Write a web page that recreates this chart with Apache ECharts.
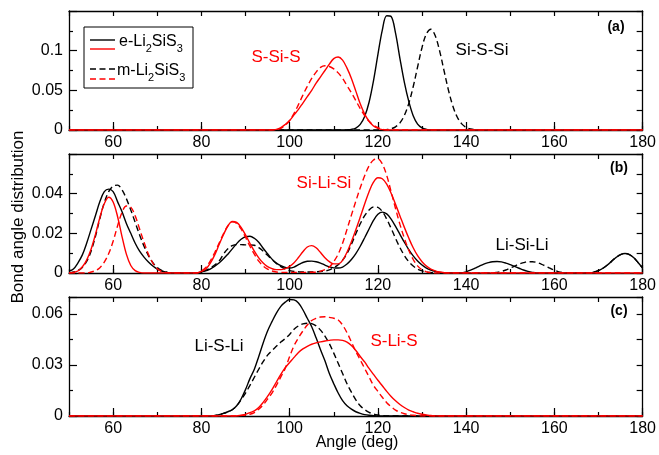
<!DOCTYPE html>
<html>
<head>
<meta charset="utf-8">
<script src="https://cdn.jsdelivr.net/npm/echarts@6.0.0/dist/echarts.min.js"></script>
<style>
  html, body { margin: 0; padding: 0; background: #fff; }
  #chart { width: 659px; height: 455px; }
</style>
</head>
<body>
<div id="chart"></div>
<script>
// tick values
const xMajor = [60, 80, 100, 120, 140, 160, 180];

// panel (a): Si-S-Si (black) and S-Si-S (red)
const aBlackE = [[50,0],[112,0],[113,0.0002],[114,0.0008],[115,0.0025],[116,0.007],[117,0.017],[118,0.035],[119,0.062],[120,0.095],[121,0.126],[122,0.144],[123,0.143],[124,0.122],[125,0.09],[126,0.06],[127,0.036],[128,0.018],[129,0.0075],[130,0.0027],[131,0.0008],[132,0],[180,0]];
const aBlackM = [[50,0],[121,0],[122,0.0005],[123,0.0016],[124,0.004],[125,0.009],[126,0.0184],[127,0.0335],[128,0.0545],[129,0.0796],[130,0.104],[131,0.1214],[132,0.127],[133,0.1187],[134,0.0994],[135,0.0745],[136,0.05],[137,0.03],[138,0.016],[139,0.0077],[140,0.0033],[141,0.0013],[142,0.0004],[143,0],[180,0]];
const aRedE = [[50,0],[96,0],[97,0.0008],[98,0.003],[99,0.007],[100,0.012],[101,0.019],[102,0.026],[103,0.034],[104,0.042],[105,0.05],[106,0.059],[107,0.067],[108,0.075],[109,0.083],[110,0.09],[111,0.092],[112,0.088],[113,0.078],[114,0.065],[115,0.049],[116,0.033],[117,0.02],[118,0.011],[119,0.005],[120,0.002],[121,0.0005],[122,0],[180,0]];
const aRedM = [[50,0],[96,0],[97,0.0005],[98,0.002],[99,0.006],[100,0.012],[101,0.021],[102,0.032],[103,0.044],[104,0.055],[105,0.065],[106,0.073],[107,0.079],[108,0.081],[109,0.08],[110,0.077],[111,0.072],[112,0.065],[113,0.056],[114,0.047],[115,0.037],[116,0.027],[117,0.018],[118,0.011],[119,0.006],[120,0.003],[121,0.001],[122,0],[180,0]];

// panel (b): Si-Li-Si (red) and Li-Si-Li (black)
const bBlackE = [[50,0.001],[51,0.002],[52,0.005],[53,0.009],[54,0.015],[55,0.022],[56,0.029],[57,0.036],[58,0.041],[59,0.0423],[60,0.041],[61,0.036],[62,0.031],[63,0.025],[64,0.02],[65,0.015],[66,0.011],[67,0.008],[68,0.0055],[69,0.0035],[70,0.002],[71,0.001],[72,0.0004],[73,0],[79,0],[80,0.0005],[82,0.002],[84,0.005],[86,0.0095],[88,0.0148],[89,0.017],[90,0.0183],[91,0.0185],[92,0.0175],[93,0.0155],[94,0.0125],[95,0.0097],[96,0.007],[97,0.005],[98,0.0037],[99,0.0028],[100,0.0025],[101,0.003],[102,0.0042],[103,0.0053],[104,0.0059],[105,0.006],[106,0.0057],[107,0.005],[108,0.004],[109,0.0031],[110,0.0026],[111,0.0025],[112,0.003],[113,0.0045],[114,0.0068],[115,0.0098],[116,0.0135],[117,0.0178],[118,0.0222],[119,0.0265],[120,0.0296],[121,0.0307],[122,0.0298],[123,0.0272],[124,0.0235],[125,0.0195],[126,0.0155],[127,0.0118],[128,0.0086],[129,0.006],[130,0.004],[131,0.0025],[132,0.0015],[133,0.0008],[134,0.0003],[135,0],[139,0],[140,0.0006],[141,0.0014],[142,0.0024],[143,0.0035],[144,0.0045],[145,0.0052],[146,0.0057],[147,0.0058],[148,0.0056],[149,0.005],[150,0.0042],[151,0.0033],[152,0.0024],[153,0.0015],[154,0.0008],[155,0.0003],[156,0],[168,0],[169,0.0005],[170,0.0012],[171,0.0024],[172,0.004],[173,0.006],[174,0.0079],[175,0.0093],[176,0.0098],[177,0.0093],[178,0.0077],[179,0.0052],[180,0.0025]];
const bBlackM = [[50,0],[51,0.0005],[52,0.0012],[53,0.0028],[54,0.0058],[55,0.011],[56,0.0185],[57,0.0275],[58,0.0355],[59,0.041],[60,0.0438],[61,0.0443],[62,0.042],[63,0.0375],[64,0.0318],[65,0.0255],[66,0.0192],[67,0.0135],[68,0.0088],[69,0.0052],[70,0.0028],[71,0.0013],[72,0.0005],[73,0],[79,0],[80,0.0005],[82,0.0025],[84,0.006],[85,0.0095],[86,0.0122],[87,0.0138],[88,0.0143],[89,0.0143],[90,0.0142],[91,0.0142],[92,0.014],[93,0.0128],[94,0.011],[95,0.0089],[96,0.0068],[97,0.0048],[98,0.0032],[99,0.002],[100,0.0012],[102,0.0006],[104,0.0005],[106,0.0006],[108,0.001],[109,0.0016],[110,0.0027],[111,0.0042],[112,0.0065],[113,0.0098],[114,0.0145],[115,0.0198],[116,0.0248],[117,0.0289],[118,0.0318],[119,0.0333],[120,0.0331],[121,0.031],[122,0.0272],[123,0.0225],[124,0.0175],[125,0.0128],[126,0.0088],[127,0.0057],[128,0.0035],[129,0.002],[130,0.0011],[131,0.0005],[132,0.0002],[133,0],[146,0],[147,0.0003],[148,0.0008],[149,0.0015],[150,0.0025],[151,0.0035],[152,0.0045],[153,0.0052],[154,0.0057],[155,0.0057],[156,0.0053],[157,0.0045],[158,0.0035],[159,0.0024],[160,0.0014],[161,0.0006],[162,0.0002],[163,0],[168,0],[169,0.0005],[170,0.0012],[171,0.0024],[172,0.004],[173,0.006],[174,0.0079],[175,0.0093],[176,0.0098],[177,0.0093],[178,0.0077],[179,0.0052],[180,0.0025]];
const bRedE = [[50,0],[51,0.0003],[52,0.001],[53,0.003],[54,0.0065],[55,0.012],[56,0.0195],[57,0.028],[58,0.035],[59,0.0382],[60,0.0358],[61,0.0285],[62,0.0185],[63,0.0095],[64,0.0038],[65,0.0012],[66,0.0003],[67,0],[79,0],[80,0.0008],[81,0.002],[82,0.0048],[83,0.009],[84,0.0142],[85,0.0193],[86,0.0237],[87,0.026],[88,0.0255],[89,0.023],[90,0.0192],[91,0.015],[92,0.011],[93,0.0076],[94,0.005],[95,0.0032],[96,0.0022],[97,0.0017],[98,0.0017],[99,0.0022],[100,0.0033],[101,0.0052],[102,0.0078],[103,0.0107],[104,0.0131],[105,0.0138],[106,0.0127],[107,0.0103],[108,0.0077],[109,0.0057],[110,0.0046],[111,0.0046],[112,0.0064],[113,0.0105],[114,0.0158],[115,0.0218],[116,0.0282],[117,0.0348],[118,0.041],[119,0.0458],[120,0.048],[121,0.0475],[122,0.0448],[123,0.0402],[124,0.0346],[125,0.0288],[126,0.023],[127,0.0176],[128,0.0127],[129,0.0087],[130,0.0057],[131,0.0035],[132,0.002],[133,0.0011],[134,0.0005],[135,0.0002],[136,0],[180,0]];
const bRedM = [[50,0],[54,0],[55,0.0005],[56,0.0012],[57,0.0027],[58,0.0055],[59,0.0098],[60,0.016],[61,0.0237],[62,0.0305],[63,0.0338],[64,0.0332],[65,0.0288],[66,0.0222],[67,0.0155],[68,0.0095],[69,0.005],[70,0.0022],[71,0.0008],[72,0.0002],[73,0],[79,0],[80,0.001],[81,0.0028],[82,0.006],[83,0.0102],[84,0.015],[85,0.0198],[86,0.0238],[87,0.0258],[88,0.025],[89,0.0222],[90,0.018],[91,0.0135],[92,0.0095],[93,0.006],[94,0.0035],[95,0.002],[96,0.001],[97,0.0005],[98,0.0003],[106,0.0004],[107,0.0009],[108,0.0017],[109,0.003],[110,0.0058],[111,0.0095],[112,0.015],[113,0.022],[114,0.0292],[115,0.0362],[116,0.043],[117,0.049],[118,0.054],[119,0.057],[120,0.0575],[121,0.055],[122,0.0492],[123,0.041],[124,0.0325],[125,0.0245],[126,0.0175],[127,0.0115],[128,0.0068],[129,0.0036],[130,0.0016],[131,0.0006],[132,0.0002],[133,0],[180,0]];

// panel (c): Li-S-Li (black) and S-Li-S (red)
const cBlackE = [[50,0],[82,0],[84,0.0008],[85,0.0015],[86,0.0025],[87,0.0037],[88,0.006],[89,0.01],[90,0.0155],[91,0.022],[92,0.0275],[93,0.035],[94,0.043],[95,0.05],[96,0.0555],[97,0.0605],[98,0.0645],[99,0.067],[100,0.0685],[101,0.0683],[102,0.0665],[103,0.0625],[104,0.0575],[105,0.0525],[106,0.046],[107,0.039],[108,0.0325],[109,0.025],[110,0.019],[111,0.0135],[112,0.009],[113,0.006],[114,0.004],[115,0.0025],[116,0.0015],[117,0.0008],[118,0.0004],[119,0.0002],[120,0],[180,0]];
const cBlackM = [[50,0],[82,0],[84,0.0008],[85,0.0015],[86,0.0025],[87,0.0037],[88,0.006],[89,0.0095],[90,0.0135],[91,0.018],[92,0.0228],[93,0.0275],[94,0.032],[95,0.0358],[96,0.0385],[97,0.041],[98,0.0435],[99,0.0455],[100,0.048],[101,0.051],[102,0.053],[103,0.0542],[104,0.0546],[105,0.0543],[106,0.053],[107,0.0505],[108,0.047],[109,0.0425],[110,0.037],[111,0.031],[112,0.025],[113,0.019],[114,0.014],[115,0.0095],[116,0.006],[117,0.0038],[118,0.0022],[119,0.0012],[120,0.0006],[121,0.0002],[122,0],[180,0]];
const cRedE = [[50,0],[88,0],[89,0.0005],[90,0.001],[91,0.002],[92,0.003],[93,0.005],[94,0.008],[95,0.0115],[96,0.0155],[97,0.02],[98,0.0245],[99,0.0285],[100,0.0315],[101,0.0345],[102,0.0374],[103,0.0395],[104,0.041],[105,0.0422],[106,0.043],[107,0.0436],[108,0.0441],[109,0.0445],[110,0.0448],[111,0.0448],[112,0.0445],[113,0.0435],[114,0.0415],[115,0.0385],[116,0.035],[117,0.0318],[118,0.028],[119,0.0245],[120,0.021],[121,0.0178],[122,0.0145],[123,0.0115],[124,0.009],[125,0.0068],[126,0.005],[127,0.0035],[128,0.0025],[129,0.0016],[130,0.001],[131,0.0006],[132,0.0003],[133,0],[180,0]];
const cRedM = [[50,0],[88,0],[89,0.0003],[90,0.0006],[91,0.001],[92,0.002],[93,0.004],[94,0.0065],[95,0.01],[96,0.0135],[97,0.018],[98,0.023],[99,0.028],[100,0.035],[101,0.0414],[102,0.046],[103,0.05],[104,0.0535],[105,0.0562],[106,0.0575],[107,0.0582],[108,0.0584],[109,0.058],[110,0.0575],[111,0.0565],[112,0.0535],[113,0.049],[114,0.0435],[115,0.038],[116,0.033],[117,0.028],[118,0.023],[119,0.018],[120,0.0145],[121,0.011],[122,0.0078],[123,0.0055],[124,0.0035],[125,0.0022],[126,0.0013],[127,0.0008],[128,0.0004],[129,0.0002],[130,0],[180,0]];

const FONT = '"Liberation Sans", Arial, Helvetica, sans-serif';
const BLACK = '#000';
const RED = '#ff0000';

// panel layout: top of each grid, y max and tick step
const panels = [
  { top: 11, yMax: 0.15, yStep: 0.05, data: [aBlackE, aBlackM, aRedE, aRedM] },
  { top: 154, yMax: 0.06, yStep: 0.02, data: [bBlackE, bBlackM, bRedE, bRedM] },
  { top: 297, yMax: 0.07, yStep: 0.03, data: [cBlackE, cBlackM, cRedE, cRedM] },
];

const axisLine = { show: true, onZero: false, lineStyle: { color: BLACK, width: 1.3 } };
const tickStyle = { color: BLACK, width: 1.2 };

const grids = [];
const xAxes = [];
const yAxes = [];
const series = [];

panels.forEach((p, g) => {
  grids.push({ left: 69, right: 15, top: p.top, height: 119, containLabel: false });

  // long ticks + labels at 60, 80, ... 180
  xAxes.push({
    gridIndex: g, type: 'value', min: 50, max: 180, position: 'bottom',
    axisLine,
    axisTick: { inside: true, length: 8, customValues: xMajor, lineStyle: tickStyle },
    axisLabel: { customValues: xMajor, color: BLACK, fontSize: 16, fontFamily: FONT, margin: 5 },
    splitLine: { show: false },
  });
  // short ticks every 10
  xAxes.push({
    gridIndex: g, type: 'value', min: 50, max: 180, interval: 10, position: 'bottom',
    axisLine: { show: false, onZero: false },
    axisTick: { inside: true, length: 4, lineStyle: tickStyle },
    axisLabel: { show: false },
    splitLine: { show: false },
  });
  xAxes.push({
    gridIndex: g, type: 'value', min: 50, max: 180, interval: 10, position: 'top',
    axisLine,
    axisTick: { inside: true, length: 5, lineStyle: tickStyle },
    axisLabel: { show: false },
    splitLine: { show: false },
  });

  yAxes.push({
    gridIndex: g, type: 'value', min: 0, max: p.yMax, interval: p.yStep, position: 'left',
    axisLine,
    axisTick: { inside: true, length: 8, lineStyle: tickStyle },
    minorTick: { show: true, splitNumber: 2, length: 4, lineStyle: tickStyle },
    axisLabel: {
      color: BLACK, fontSize: 16, fontFamily: FONT, margin: 6, showMaxLabel: false,
      formatter: (v) => (v === 0 ? '0' : String(parseFloat(v.toFixed(4)))),
    },
    splitLine: { show: false },
    minorSplitLine: { show: false },
  });
  yAxes.push({
    gridIndex: g, type: 'value', min: 0, max: p.yMax, interval: p.yStep / 2, position: 'right',
    axisLine,
    axisTick: { inside: true, length: 6, lineStyle: tickStyle },
    axisLabel: { show: false },
    splitLine: { show: false },
  });

  const styles = [
    { color: BLACK, type: 'solid' },
    { color: BLACK, type: [6, 3.5] },
    { color: RED, type: 'solid' },
    { color: RED, type: [6, 3.5] },
  ];
  p.data.forEach((d, i) => {
    series.push({
      type: 'line',
      xAxisIndex: g * 3,
      yAxisIndex: g * 2,
      data: d,
      showSymbol: false,
      symbol: 'none',
      smooth: 0.35,
      lineStyle: { color: styles[i].color, type: styles[i].type, width: 1.4 },
      itemStyle: { color: styles[i].color },
      z: 3,
    });
  });
});

function label(text, x, y, color, size, weight) {
  return {
    type: 'text', x, y, z: 20,
    style: {
      text, fill: color, align: 'center', verticalAlign: 'middle',
      font: (weight || 'normal') + ' ' + size + 'px ' + FONT,
    },
  };
}

const subRich = {
  n: { fontSize: 16, fontFamily: FONT, color: BLACK, verticalAlign: 'bottom', lineHeight: 16, padding: [0, 0, 4, 0] },
  s: { fontSize: 11, fontFamily: FONT, color: BLACK, verticalAlign: 'bottom', lineHeight: 11 },
};

const graphics = [
  label('(a)', 616, 27, BLACK, 14, 'bold'),
  label('(b)', 619, 168, BLACK, 14, 'bold'),
  label('(c)', 619, 311, BLACK, 14, 'bold'),
  label('S-Si-S', 276, 57, RED, 17),
  label('Si-S-Si', 482, 50, BLACK, 17),
  label('Si-Li-Si', 324, 183, RED, 17),
  label('Li-Si-Li', 522, 245, BLACK, 17),
  label('Li-S-Li', 219, 346, BLACK, 17),
  label('S-Li-S', 394, 341, RED, 17),
  label('Angle (deg)', 357, 443, BLACK, 16),
  {
    type: 'text', x: 18, y: 217, rotation: Math.PI / 2, z: 20,
    style: { text: 'Bond angle distribution', fill: BLACK, align: 'center', verticalAlign: 'middle', font: '17px ' + FONT },
  },
  // legend box
  { type: 'rect', z: 15, shape: { x: 84, y: 27, width: 109, height: 61 }, style: { fill: '#fff', stroke: BLACK, lineWidth: 1 } },
  { type: 'line', z: 16, shape: { x1: 90, y1: 40, x2: 115, y2: 40 }, style: { stroke: BLACK, lineWidth: 1.4 } },
  { type: 'line', z: 16, shape: { x1: 90, y1: 49, x2: 115, y2: 49 }, style: { stroke: RED, lineWidth: 1.4 } },
  { type: 'line', z: 16, shape: { x1: 90, y1: 69, x2: 115, y2: 69 }, style: { stroke: BLACK, lineWidth: 1.4, lineDash: [6, 3.5] } },
  { type: 'line', z: 16, shape: { x1: 90, y1: 79, x2: 115, y2: 79 }, style: { stroke: RED, lineWidth: 1.4, lineDash: [6, 3.5] } },
  {
    type: 'text', x: 119, y: 46, z: 16,
    style: { text: '{n|e-Li}{s|2}{n|SiS}{s|3}', rich: subRich, align: 'left', verticalAlign: 'middle' },
  },
  {
    type: 'text', x: 117, y: 75, z: 16,
    style: { text: '{n|m-Li}{s|2}{n|SiS}{s|3}', rich: subRich, align: 'left', verticalAlign: 'middle' },
  },
];

const chart = echarts.init(document.getElementById('chart'), null, { renderer: 'canvas' });
chart.setOption({
  animation: false,
  backgroundColor: '#fff',
  grid: grids,
  xAxis: xAxes,
  yAxis: yAxes,
  series,
  graphic: graphics,
});
</script>
</body>
</html>
